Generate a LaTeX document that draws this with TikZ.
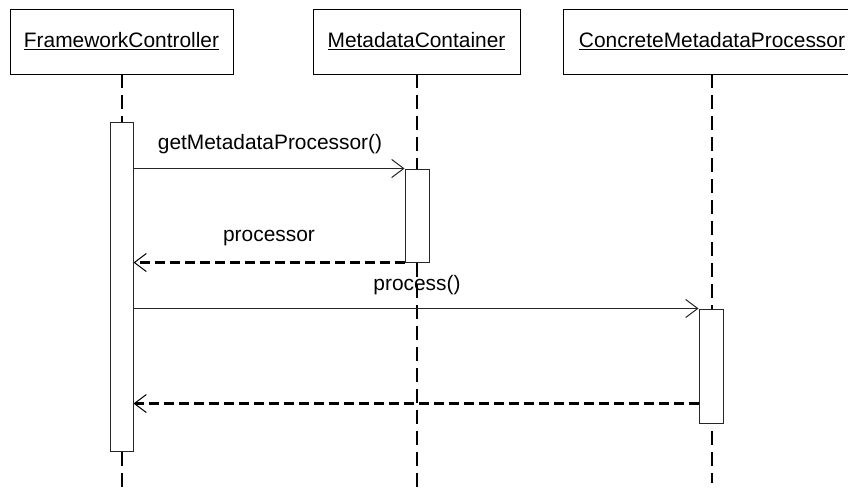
\documentclass[tikz,border=0pt]{standalone}
\usepackage{fontspec}
\setmainfont{Liberation Sans}
\usetikzlibrary{arrows.meta}
\tikzset{
  objbox/.style={draw=black, line width=1pt, fill=white, inner sep=0pt},
  actbar/.style={draw=black!85, line width=1pt, fill=white, inner sep=0pt, minimum width=23pt},
  lifeline/.style={draw=black, line width=2.2pt, dash pattern=on 14pt off 7pt},
  msg/.style={draw=black!85, line width=1pt, -{Straight Barb[length=12pt,width=18pt,line width=1pt]}},
  reply/.style={draw=black, line width=2.2pt, dash pattern=on 10pt off 5pt, -{Straight Barb[length=12pt,width=18pt,line width=1pt]}},
  lbl/.style={inner sep=0pt, anchor=base}
}
\begin{document}
\begin{tikzpicture}[x=1pt,y=-1pt, font=\fontsize{20.9pt}{25pt}\selectfont]
\useasboundingbox (0,0) rectangle (848,493);
\clip (0,0) rectangle (848,493);
\fill[white] (0,0) rectangle (848,493);
% lifelines
\coordinate (e1) at (122,493);
\coordinate (e2) at (417,493);
\coordinate (e3) at (712,483);
\draw[lifeline] (122,74) -- (e1);
\draw[lifeline] (417,74) -- (e2);
\draw[lifeline] (712,74) -- (e3);
% object boxes
\node[objbox, minimum width=223pt, minimum height=65pt] (b1) at (121.5,41.5) {\underline{FrameworkController}};
\node[objbox, minimum width=207pt, minimum height=65pt] (b2) at (416.5,41.5) {\underline{MetadataContainer}};
\node[objbox, minimum width=298pt, minimum height=65pt] (b3) at (712,41.5) {\underline{ConcreteMetadataProcessor}};
% activation bars
\node[actbar, minimum height=329pt] (a1) at (121.5,286.5) {};
\node[actbar, minimum width=24pt, minimum height=93pt] (a2) at (417,215.5) {};
\node[actbar, minimum width=24pt, minimum height=114pt] (a3) at (711,366) {};
% messages
\draw[msg] (a1.east |- a2.north west) -- (a2.north west);
\draw[reply] (a2.south west) -- (a1.east |- a2.south west);
\draw[msg] (a1.east |- a3.north west) -- (a3.north west);
\coordinate (r2) at ([yshift=20pt]a3.south west);
\draw[reply] (r2) -- (a1.east |- r2);
% labels
\node[lbl] (l1) at (270,149) {getMetadataProcessor()};
\node[lbl] (l2) at (269,241) {processor};
\node[lbl] (l3) at (417,290) {process()};
\end{tikzpicture}
\end{document}
